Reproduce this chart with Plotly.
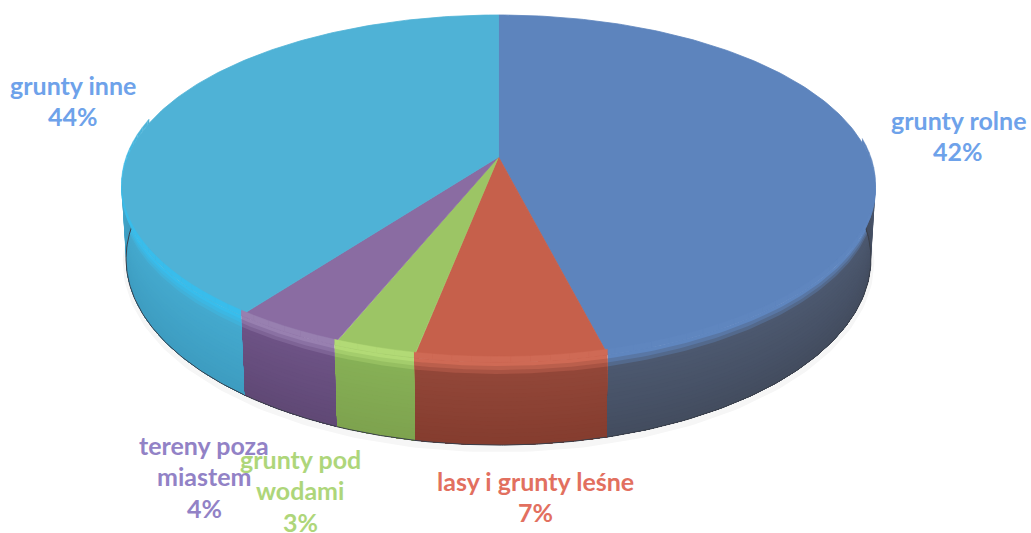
import numpy as np
import plotly.graph_objects as go

# Data: printed labels, and the slice sizes as they are actually drawn in the picture
categories = [["grunty rolne"], ["lasy i grunty leśne"], ["grunty pod", "wodami"], ["tereny poza", "miastem"], ["grunty inne"]]
label_pct = ["42%", "7%", "3%", "4%", "44%"]
drawn_share = [46.1, 6.9, 3.0, 4.1, 39.9]

# Styles
top_colors = ["#5d84bd", "#c6604b", "#9cc565", "#8a6ca2", "#4fb2d6"]
rim_colors = ["#5f86bf", "#cf6a55", "#b2da76", "#9880b0", "#38bdec"]
side_up = ["#4d5a72", "#94483a", "#88b257", "#6f5488", "#45abd0"]
side_down = ["#434c5e", "#843c2e", "#7da24e", "#5f4874", "#3d9cc0"]
label_colors = ["#6ea2ea", "#e2705f", "#aed67a", "#9282c6", "#6ea2ea"]
label_x = [958, 535, 300, 204, 73]
label_first_y = [120, 481, 459, 445, 85]
LINE_STEP = 31.3

# Projection of the tilted disc
CX, CY, A, B, P, DEPTH = 498.5, 157.0, 370.7, 167.8, 0.1816, 68.0


def rim(theta_deg, drop=0.0):
    t = np.radians(theta_deg)
    d = 1 + P * np.cos(t)
    shrink = 1 - 0.012 * max(drop, 0.0) / DEPTH
    return CX + shrink * A * np.sin(t) / d, CY - B * np.cos(t) / d + drop / d


def mix(c1, c2, f):
    a = [int(c1[i:i + 2], 16) for i in (1, 3, 5)]
    b = [int(c2[i:i + 2], 16) for i in (1, 3, 5)]
    return "rgb(%d,%d,%d)" % tuple(round(u + (v - u) * f) for u, v in zip(a, b))


def poly(x, y, color, edge=0.0):
    return go.Scatter(x=list(x), y=list(y), mode="lines", fill="toself", fillcolor=color,
                      line=dict(width=edge, color=color), hoverinfo="skip", showlegend=False)


edges = np.concatenate([[0], np.cumsum(drawn_share)]) * 3.6
fig = go.Figure()

# Faint shadow under the disc
th_all = np.linspace(88, 272, 200)
xs, ys = rim(th_all, DEPTH + 3)
fig.add_trace(go.Scatter(x=xs, y=ys, mode="lines", line=dict(color="#f6f6f6", width=7),
                         hoverinfo="skip", showlegend=False))

# Sides: painted from the top rim downwards, each band reaching the bottom rim
N_BANDS = 22
for i in range(5):
    lo, hi = max(edges[i], 85), min(edges[i + 1], 275)
    if hi <= lo:
        continue
    th = np.linspace(lo, hi, 90)
    xb, yb = rim(th, DEPTH)
    for k in range(N_BANDS):
        f = k / (N_BANDS - 1)
        d0 = DEPTH * f
        x0, y0 = rim(th, d0)
        col = mix(rim_colors[i], side_up[i], min(1, f * 7)) if f < 1 / 7 else mix(side_up[i], side_down[i], f)
        fig.add_trace(poly(np.r_[x0, xb[::-1]], np.r_[y0, yb[::-1]], col))
    fig.add_trace(go.Scatter(x=xb, y=yb, mode="lines", line=dict(color="#3a3f4a", width=1),
                             hoverinfo="skip", showlegend=False))

# Top face
for i in range(5):
    th = np.linspace(edges[i], edges[i + 1], 160)
    x, y = rim(th)
    fig.add_trace(poly(np.r_[CX, x, CX], np.r_[CY, y, CY], top_colors[i], edge=0.8))

# Highlight along the front rim of the top face, fading towards the back
for i in range(5):
    lo, hi = max(edges[i], 85), min(edges[i + 1], 282)
    if hi <= lo:
        continue
    steps = np.arange(lo, hi + 2.5, 2.5)
    steps[-1] = hi
    for a0, a1 in zip(steps[:-1], steps[1:]):
        m = (a0 + a1) / 2
        fade = np.clip(min((m - 85) / 30, (282 - m) / 22), 0, 1)
        th = np.linspace(a0, a1, 5)
        xo, yo = rim(th)
        xi, yi = rim(th, -4.5)
        fig.add_trace(poly(np.r_[xo, xi[::-1]], np.r_[yo, yi[::-1]], mix(top_colors[i], rim_colors[i], fade), edge=0.4))

for i in range(5):
    lines = categories[i] + [label_pct[i]]
    for j, line in enumerate(lines):
        fig.add_annotation(x=label_x[i], y=label_first_y[i] + j * LINE_STEP, xref="x", yref="y", showarrow=False,
                           text=line, xanchor="center", yanchor="middle",
                           font=dict(family="Lato", size=25, color=label_colors[i], weight="bold"))

fig.update_layout(width=1031, height=533, margin=dict(l=0, r=0, t=0, b=0),
                  paper_bgcolor="white", plot_bgcolor="white", showlegend=False,
                  xaxis=dict(range=[0, 1031], visible=False, fixedrange=True),
                  yaxis=dict(range=[533, 0], visible=False, fixedrange=True))
fig.write_html("out.html", post_script="document.body.style.margin='0';document.body.style.overflow='hidden';",
               config={"displayModeBar": False})
